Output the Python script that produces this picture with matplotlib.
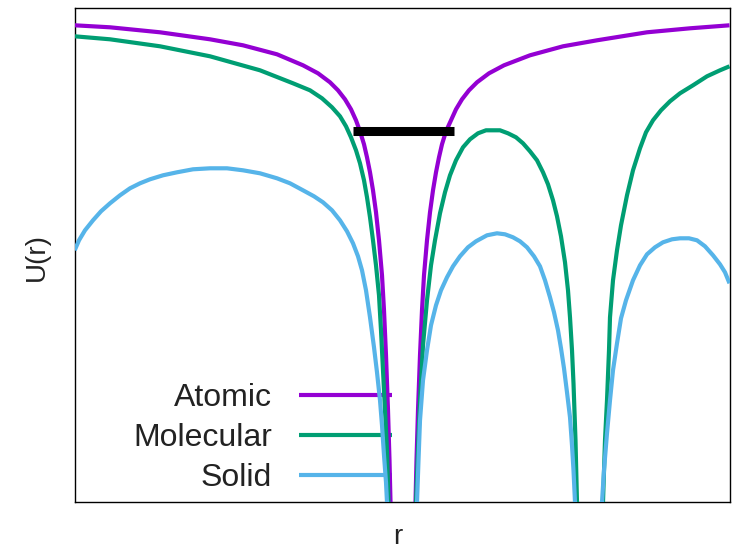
import matplotlib
matplotlib.use("Agg")
import matplotlib.pyplot as plt

plt.rcParams['font.family'] = ['Liberation Sans', 'DejaVu Sans']

# Potential energy curves U(r) in arbitrary units, sampled along r.
# None separates the branches on either side of each nucleus.
atomic_r = [0.000, 0.353, 0.853, 1.353, 1.683, 2.023, 2.283, 2.433, 2.553, 2.633,
            2.703, 2.763, 2.813, 2.853, 2.893, 2.923, 2.953, 2.983, 3.013, 3.043,
            3.073, 3.093, 3.113, 3.133, 3.148, 3.158, 3.163,
            None,
            3.403, 3.408, 3.418, 3.433, 3.453, 3.473, 3.493, 3.523, 3.553, 3.583,
            3.613, 3.643, 3.673, 3.713, 3.763, 3.813, 3.873, 3.943, 4.023, 4.143,
            4.293, 4.553, 4.883, 5.223, 5.723, 6.153, 6.548]
atomic_u = [-0.17, -0.19, -0.24, -0.31, -0.37, -0.46, -0.57, -0.65, -0.74, -0.82,
            -0.91, -1.01, -1.12, -1.23, -1.36, -1.49, -1.64, -1.82, -2.04, -2.32,
            -2.67, -3.02, -3.47, -4.02, -4.52, -4.94, -5.32,
            None,
            -5.32, -4.94, -4.52, -4.02, -3.47, -3.02, -2.67, -2.32, -2.04, -1.82,
            -1.64, -1.49, -1.36, -1.23, -1.12, -1.01, -0.91, -0.82, -0.74, -0.65,
            -0.57, -0.47, -0.38, -0.32, -0.24, -0.20, -0.17]

molecular_r = [0.000, 0.353, 0.853, 1.353, 1.853, 2.183, 2.353, 2.473, 2.573, 2.653,
               2.713, 2.763, 2.813, 2.853, 2.893, 2.923, 2.953, 2.983, 3.013, 3.043,
               3.063, 3.083, 3.103, 3.123, 3.138, 3.143,
               None,
               3.408, 3.413, 3.433, 3.453, 3.483, 3.523, 3.563, 3.603, 3.653, 3.703,
               3.753, 3.813, 3.883, 3.953, 4.033, 4.113, 4.183, 4.253, 4.333, 4.413,
               4.483, 4.553, 4.623, 4.683, 4.733, 4.783, 4.823, 4.863, 4.903, 4.933,
               4.953, 4.973, 4.988, 5.008, 5.023, 5.033,
               None,
               5.273, 5.283, 5.303, 5.323, 5.343, 5.353, 5.383, 5.423, 5.463, 5.523,
               5.583, 5.653, 5.713, 5.783, 5.863, 5.953, 6.053, 6.183, 6.323, 6.453,
               6.548]
molecular_u = [-0.28, -0.31, -0.38, -0.48, -0.62, -0.75, -0.82, -0.90, -0.99, -1.08,
               -1.18, -1.29, -1.42, -1.55, -1.72, -1.89, -2.09, -2.32, -2.57, -2.87,
               -3.22, -3.62, -4.02, -4.42, -4.94, -5.32,
               None,
               -5.32, -4.94, -4.42, -3.92, -3.37, -2.92, -2.57, -2.32, -2.05, -1.84,
               -1.67, -1.52, -1.39, -1.31, -1.25, -1.22, -1.22, -1.22, -1.25, -1.29,
               -1.35, -1.43, -1.52, -1.64, -1.76, -1.92, -2.08, -2.28, -2.54, -2.82,
               -3.09, -3.42, -3.75, -4.32, -4.94, -5.32,
               None,
               -5.32, -4.94, -4.32, -3.92, -3.42, -3.09, -2.72, -2.42, -2.17, -1.87,
               -1.62, -1.40, -1.24, -1.12, -1.02, -0.93, -0.85, -0.77, -0.68, -0.62,
               -0.58]

solid_r = [0.000, 0.043, 0.103, 0.183, 0.263, 0.353, 0.453, 0.553, 0.653, 0.753,
           0.883, 1.023, 1.183, 1.353, 1.523, 1.683, 1.853, 2.023, 2.153, 2.283,
           2.393, 2.483, 2.573, 2.653, 2.723, 2.783, 2.833, 2.873, 2.913, 2.953,
           2.993, 3.023, 3.053, 3.073, 3.093, 3.113, 3.123, 3.133,
           None,
           3.413, 3.423, 3.438, 3.453, 3.483, 3.523, 3.563, 3.613, 3.663, 3.723,
           3.783, 3.853, 3.933, 4.013, 4.123, 4.223, 4.303, 4.383, 4.453, 4.523,
           4.593, 4.653, 4.703, 4.753, 4.793, 4.833, 4.863, 4.893, 4.923, 4.953,
           4.973, 4.988, 5.003, 5.013,
           None,
           5.263, 5.273, 5.293, 5.323, 5.353, 5.383, 5.423, 5.463, 5.513, 5.583,
           5.653, 5.723, 5.803, 5.883, 5.973, 6.053, 6.143, 6.223, 6.303, 6.383,
           6.453, 6.503, 6.548]
solid_u = [-2.42, -2.32, -2.22, -2.12, -2.03, -1.95, -1.87, -1.80, -1.75, -1.71,
           -1.67, -1.64, -1.61, -1.60, -1.60, -1.62, -1.65, -1.70, -1.75, -1.82,
           -1.88, -1.94, -2.02, -2.12, -2.23, -2.35, -2.48, -2.62, -2.82, -3.09,
           -3.39, -3.64, -3.92, -4.17, -4.47, -4.74, -4.94, -5.32,
           None,
           -5.32, -4.94, -4.52, -4.12, -3.72, -3.42, -3.17, -2.97, -2.82, -2.69,
           -2.58, -2.48, -2.39, -2.33, -2.27, -2.25, -2.26, -2.29, -2.33, -2.39,
           -2.48, -2.58, -2.72, -2.89, -3.04, -3.22, -3.40, -3.60, -3.84, -4.09,
           -4.37, -4.62, -4.94, -5.32,
           None,
           -5.32, -4.94, -4.62, -4.25, -3.92, -3.62, -3.35, -3.10, -2.92, -2.72,
           -2.57, -2.46, -2.39, -2.34, -2.31, -2.30, -2.30, -2.32, -2.38, -2.47,
           -2.56, -2.64, -2.75]

# Ionisation level drawn across the atomic well
level_r = [2.783, 3.793]
level_u = [-1.23, -1.23]

series_names = ["Atomic", "Molecular", "Solid"]
series_colors = ["#9400d3", "#009e73", "#56b4e9"]


def as_float(vals):
    return [float('nan') if v is None else v for v in vals]


fig = plt.figure(figsize=(7.35, 5.51), dpi=100)
W, H = 735.0, 551.0
ax = fig.add_axes([74.7 / W, 1 - 502.3 / H, (729.5 - 74.7) / W, (502.3 - 8.3) / H])

curves = [(atomic_r, atomic_u), (molecular_r, molecular_u), (solid_r, solid_u)]
for (rr, uu), name, col in zip(curves, series_names, series_colors):
    ax.plot(as_float(rr), as_float(uu), color=col, lw=3.0, label=name,
            solid_joinstyle='round', solid_capstyle='butt', zorder=3)

ax.plot(level_r, level_u, color='black', lw=6.5, solid_capstyle='butt', zorder=4)

ax.set_xlim(0, 6.548)
ax.set_ylim(-4.94, 0)
ax.set_xticks([])
ax.set_yticks([])
for sp in ax.spines.values():
    sp.set_linewidth(1.0)
    sp.set_color('black')

leg = ax.legend(loc='center right', bbox_to_anchor=(392 / W, 1 - 438 / H),
                bbox_transform=fig.transFigure, frameon=False, markerfirst=False,
                fontsize=23, handlelength=2.9, handletextpad=0.85, labelspacing=0.32,
                borderpad=0, borderaxespad=0)
leg.set_zorder(2)
for t in leg.get_texts():
    t.set_color('#222222')

fig.text(37 / W, 1 - 257 / H, 'U(r)', rotation=90, ha='center', va='center',
         fontsize=20, color='#222222')
fig.text(398 / W, 1 - 544 / H, 'r', ha='center', va='baseline', fontsize=20,
         color='#222222')

fig.savefig('out.png', dpi=100)
